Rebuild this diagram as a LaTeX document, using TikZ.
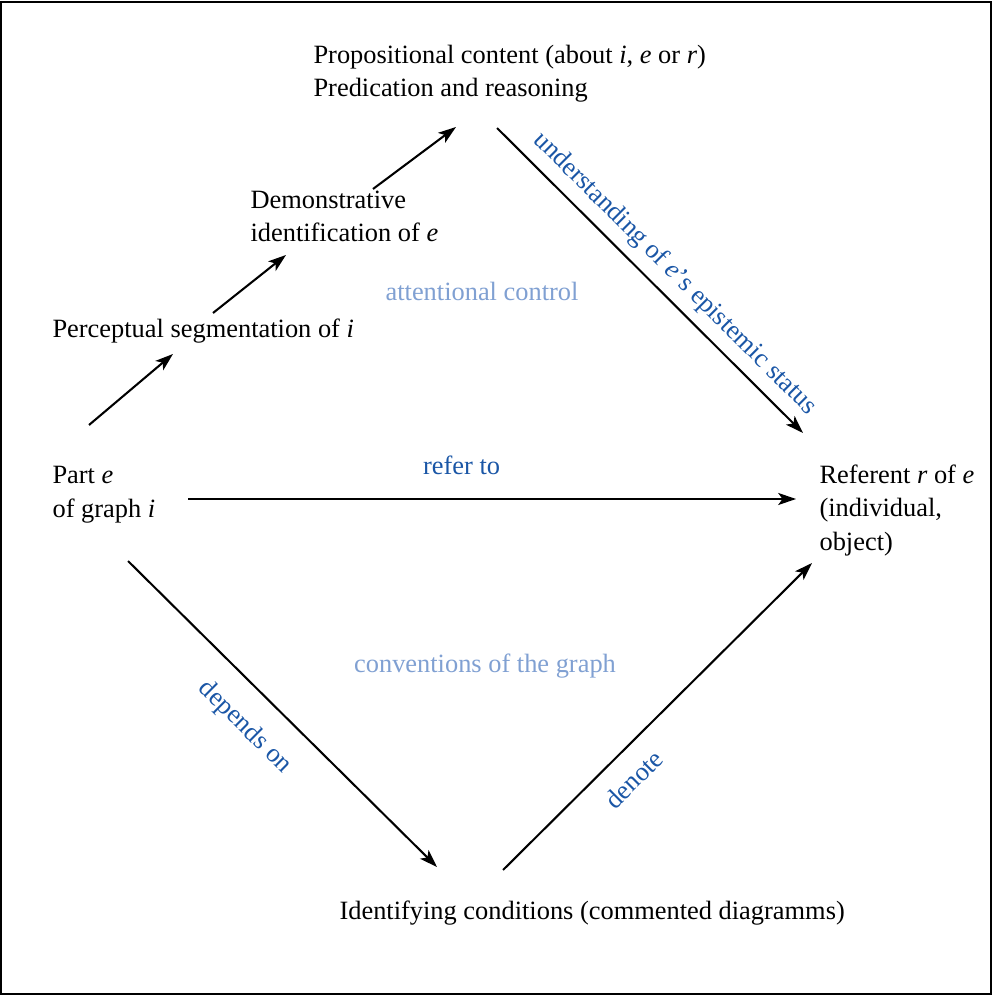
\documentclass[tikz,border=0pt]{standalone}
\usepackage{fontspec}
\setmainfont{Liberation Serif}
\usetikzlibrary{arrows.meta}
\definecolor{labelblue}{RGB}{26,86,166}
\definecolor{paleblue}{RGB}{128,160,210}

\begin{document}
\begin{tikzpicture}
      [x = 0.3636pt, y = -0.3636pt,
      every node/.style = {font = \fontsize{9.6}{12}\selectfont},
      conn/.style = {-{Stealth[length = 6.5pt, width = 4.4pt, inset = 1.6pt]}, line width = 0.75pt},
      term/.style = {anchor = base west, align = left, inner sep = 0pt},
      rel/.style = {text = labelblue},
      area/.style = {text = paleblue}]

      \useasboundingbox (0, 0) rectangle (993, 996);
      \draw[line width = 0.8pt] (1, 2) rectangle (991, 994);

      % terms (base = last line)
      \node[term] (prop) at (313, 97)
         {Propositional content (about \textit{i}, \textit{e} or \textit{r})\\Predication and reasoning};
      \node[term] (demo) at (250, 242) {Demonstrative\\identification of \textit{e}};
      \node[term] (segm) at (52, 338) {Perceptual segmentation of \textit{i}};
      \node[term] (part) at (52, 517) {Part \textit{e}\\of graph \textit{i}};
      \node[term] (refr) at (819, 550) {Referent \textit{r} of \textit{e}\\(individual,\\object)};
      \node[term] (cond) at (339, 919) {Identifying conditions (commented diagramms)};

      % areas
      \node[area, anchor = base] (attn) at (482, 301) {attentional control};
      \node[area, anchor = base] (conv) at (485, 672) {conventions of the graph};

      % free ends of the connectors
      \coordinate (part-up) at (89, 425);
      \coordinate (segm-in) at (173, 354);
      \coordinate (segm-up) at (213, 313);
      \coordinate (demo-in) at (286, 255);
      \coordinate (demo-up) at (373, 189);
      \coordinate (prop-in) at (456, 127);
      \coordinate (prop-out) at (497, 128);
      \coordinate (refr-top) at (803, 433);
      \coordinate (part-out) at (188, 499);
      \coordinate (refr-in) at (796, 499);
      \coordinate (part-down) at (128, 561);
      \coordinate (cond-in) at (437, 867);
      \coordinate (cond-out) at (503, 870);
      \coordinate (refr-bot) at (812, 563);

      \draw[conn] (part-up) -- (segm-in);
      \draw[conn] (segm-up) -- (demo-in);
      \draw[conn] (demo-up) -- (prop-in);
      \draw[conn] (prop-out) -- (refr-top)
         node[rel, pos = 0.53, sloped, above] {understanding of \textit{e}'s epistemic status};
      \draw[conn] (part-out) -- (refr-in)
         node[rel, pos = 0.45, above = 5pt] {refer to};
      \draw[conn] (part-down) -- (cond-in)
         node[rel, pos = 0.46, sloped, below = 5pt] {depends on};
      \draw[conn] (cond-out) -- (refr-bot)
         node[rel, pos = 0.36, sloped, below = 3pt] {denote};

   \end{tikzpicture}
\end{document}
